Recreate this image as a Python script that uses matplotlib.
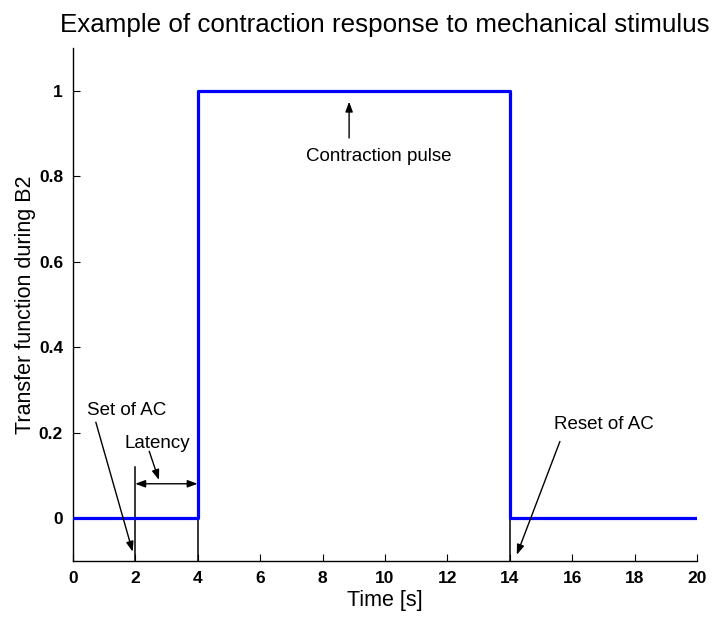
import matplotlib
matplotlib.use("Agg")
import matplotlib.pyplot as plt

plt.rcParams['font.family'] = ['Liberation Sans', 'DejaVu Sans']

# data
time = [0, 4, 4, 14, 14, 20]
response = [0, 0, 1, 1, 0, 0]
marker_x = [2, 4, 14]
marker_top = [0.12, 0.11, 0.075]
xticks = [0, 2, 4, 6, 8, 10, 12, 14, 16, 18, 20]
yticks = [0, 0.2, 0.4, 0.6, 0.8, 1]
ytick_labels = ['0', '0.2', '0.4', '0.6', '0.8', '1']

fig = plt.figure(figsize=(7.13, 6.18), dpi=100)
ax = fig.add_axes([0.102, 0.092, 0.876, 0.830])

ax.plot(time, response, color='#0000ff', linewidth=2.3, zorder=3)
for mx, mt in zip(marker_x, marker_top):
    ax.plot([mx, mx], [-0.1, mt], color='black', linewidth=1.1, zorder=2)

ax.set_xlim(0, 20)
ax.set_ylim(-0.1, 1.1)
ax.set_xticks(xticks)
ax.set_xticklabels([str(t) for t in xticks])
ax.set_yticks(yticks)
ax.set_yticklabels(ytick_labels)
ax.tick_params(direction='in', length=5, width=0.8, labelsize=12.5, pad=7)
for lab in ax.get_xticklabels() + ax.get_yticklabels():
    lab.set_fontweight('bold')
ax.spines['top'].set_visible(False)
ax.spines['right'].set_visible(False)
ax.spines['left'].set_linewidth(1.0)
ax.spines['bottom'].set_linewidth(1.0)

ax.set_xlabel('Time [s]', fontsize=15.5, labelpad=3)
ax.set_ylabel('Transfer function during B2', fontsize=15.5, labelpad=2)
ax.set_title('Example of contraction response to mechanical stimulus', fontsize=18.7, pad=11.5)

arrow = dict(arrowstyle='-|>,head_length=0.6,head_width=0.22', color='black', lw=1.0, shrinkA=0, shrinkB=0)
fs = 13.5

# Contraction pulse
ax.annotate('', xy=(8.85, 0.975), xytext=(8.85, 0.89), arrowprops=arrow)
ax.text(9.8, 0.835, 'Contraction pulse', ha='center', va='baseline', fontsize=fs)

# Set of AC
ax.text(1.72, 0.243, 'Set of AC', ha='center', va='baseline', fontsize=fs)
ax.annotate('', xy=(1.92, -0.078), xytext=(0.74, 0.225), arrowprops=arrow)

# Latency
ax.text(2.72, 0.164, 'Latency', ha='center', va='baseline', fontsize=fs)
ax.annotate('', xy=(2.76, 0.09), xytext=(2.45, 0.157), arrowprops=arrow)
ax.annotate('', xy=(2.0, 0.081), xytext=(4.0, 0.081),
            arrowprops=dict(arrowstyle='<|-|>,head_length=0.6,head_width=0.22', color='black', lw=1.0,
                            shrinkA=0, shrinkB=0))

# Reset of AC
ax.text(17.0, 0.208, 'Reset of AC', ha='center', va='baseline', fontsize=fs)
ax.annotate('', xy=(14.22, -0.085), xytext=(15.6, 0.18), arrowprops=arrow)

fig.savefig('out.png', dpi=100)
